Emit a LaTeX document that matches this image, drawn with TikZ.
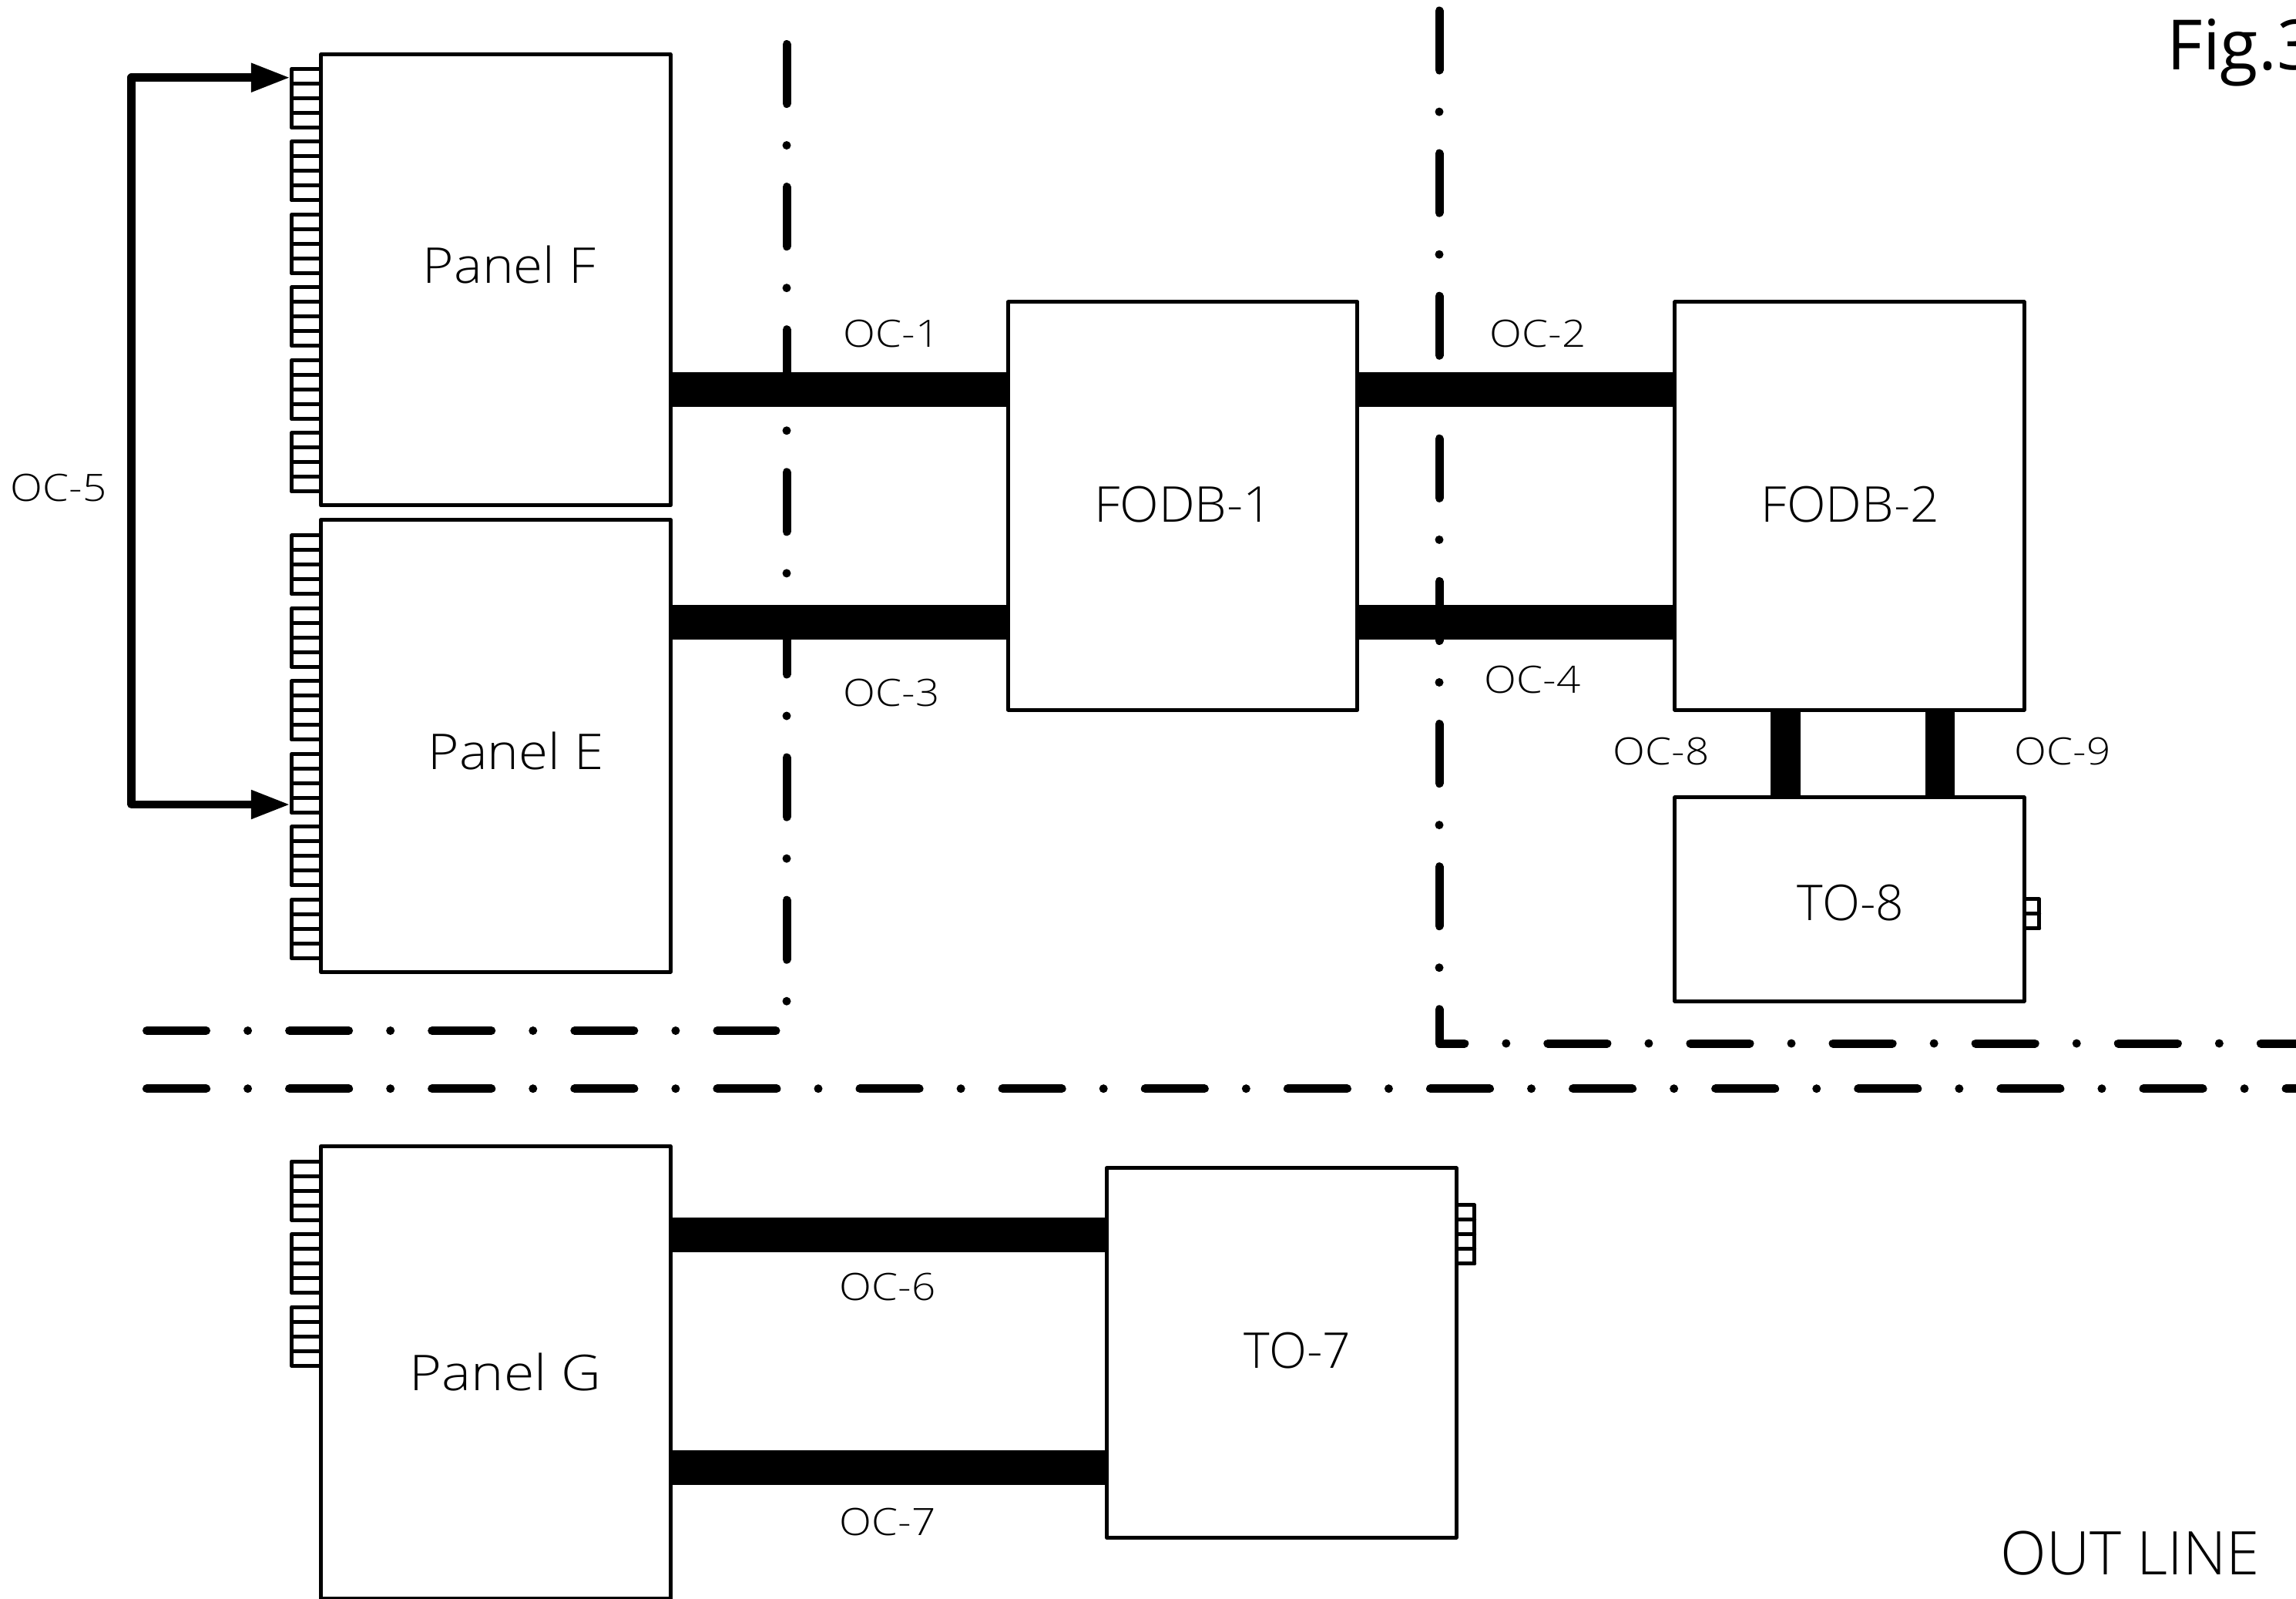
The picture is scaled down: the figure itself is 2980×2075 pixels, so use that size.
\documentclass[tikz,border=0pt]{standalone}
\usepackage{fontspec}
\setmainfont{Open Sans}[UprightFont=* Light]
\newfontfamily\figfont{Open Sans}
\newfontfamily\wideA{Open Sans}[UprightFont=* Light,FakeStretch=1.08]
\newfontfamily\wideB{Open Sans}[UprightFont=* Light,FakeStretch=1.12]
\newfontfamily\wideC{Open Sans}[UprightFont=* Light,FakeStretch=1.035]
\usetikzlibrary{arrows.meta}
\newcommand{\portgroup}[4]{% x-left, x-right, y-start, count
  \pgfmathsetmacro{\portstart}{#3}
  \draw[portline] (#1,\portstart) rectangle (#2,\portstart+19*#4);
  \foreach \portrung in {1,...,#4}{\draw[portline] (#1,\portstart+19*\portrung) -- (#2,\portstart+19*\portrung);}
}
\tikzset{
  x=0.01cm,y=-0.01cm,
  boxnode/.style={draw=black,fill=white,line width=0.05cm,inner sep=0pt,outer sep=0pt,line join=round},
  portline/.style={draw=black,line width=0.05cm,line join=round,line cap=round},
  bus/.style={draw=black,line width=0.45cm},
  vbus/.style={draw=black,line width=0.385cm},
  centreline/.style={draw=black,line width=0.11cm,line cap=round,line join=round,dash pattern=on 0.77cm off 0.54cm on 0cm off 0.54cm},
  linkarrow/.style={draw=black,line width=0.107cm,line join=round,{Triangle[length=0.507cm,width=0.35cm]}-{Triangle[length=0.507cm,width=0.35cm]}},
  cable/.style={inner sep=0pt,outer sep=0pt,anchor=base,font=\wideB\fontsize{13.9pt}{16pt}\selectfont},
  title/.style={inner sep=0pt,outer sep=0pt,anchor=base,font=\fontsize{18.2pt}{22pt}\selectfont},
  paneltitle/.style={title,font=\wideA\fontsize{18.2pt}{22pt}\selectfont},
  paneltitlewide/.style={title,font=\wideB\fontsize{18.2pt}{22pt}\selectfont},
  dbtitle/.style={title,font=\wideC\fontsize{18.2pt}{22pt}\selectfont},
}
\begin{document}
\begin{tikzpicture}
\useasboundingbox (0,0) rectangle (2980,2075);
% centre lines
\draw[centreline] (1021,57.5) -- (1021,1299.5);
\draw[centreline] (1868,14) -- (1868,1354) -- (2985,1354);
\draw[centreline] (190.5,1337.5) -- (1007,1337.5);
\draw[centreline] (190.5,1412.7) -- (2985,1412.7);
% ports
\foreach \g in {0,...,5}{\portgroup{378.7}{416}{89.3+94.5*\g}{4}}
\foreach \g in {0,...,5}{\portgroup{378.7}{416}{694.8+94.5*\g}{4}}
\foreach \g in {0,...,2}{\portgroup{378.7}{416}{1507+94.5*\g}{4}}
\portgroup{1890}{1913.7}{1563.7}{4}
\portgroup{2627.5}{2646.7}{1166.7}{2}
% boxes
\node[boxnode,minimum width=4.535cm,minimum height=5.85cm] (panelF) at (643.3,363.3) {};
\node[boxnode,minimum width=4.535cm,minimum height=5.865cm] (panelE) at (643.3,967.8) {};
\node[boxnode,minimum width=4.535cm,minimum height=5.865cm] (panelG) at (643.3,1781) {};
\node[boxnode,minimum width=4.53cm,minimum height=5.29cm] (fodbA) at (1535.3,656.5) {};
\node[boxnode,minimum width=4.53cm,minimum height=5.29cm] (fodbB) at (2400.6,656.5) {};
\node[boxnode,minimum width=4.53cm,minimum height=2.64cm] (toE) at (2400.6,1167) {};
\node[boxnode,minimum width=4.535cm,minimum height=4.79cm] (toS) at (1663.2,1755.5) {};
% buses
\draw[bus] (panelF.east |- 0,505.5) -- (fodbA.west |- 0,505.5);
\draw[bus] (panelE.east |- 0,807.5) -- (fodbA.west |- 0,807.5);
\draw[bus] (fodbA.east |- 0,505.5) -- (fodbB.west |- 0,505.5);
\draw[bus] (fodbA.east |- 0,807.5) -- (fodbB.west |- 0,807.5);
\draw[bus] (panelG.east |- 0,1602) -- (toS.west |- 0,1602);
\draw[bus] (panelG.east |- 0,1904) -- (toS.west |- 0,1904);
\draw[vbus] (fodbB.south -| 2317.7,0) -- (toE.north -| 2317.7,0);
\draw[vbus] (fodbB.south -| 2518,0) -- (toE.north -| 2518,0);
% arrow
\coordinate (tipA) at (376.7,100.7);
\coordinate (tipB) at (376.7,1044);
\coordinate (bendA) at (170.7,100.7);
\coordinate (bendB) at (170.7,1044);
\draw[linkarrow] (tipA) -- (bendA) -- (bendB) -- (tipB);
% box titles
\node[paneltitle] (tF) at (661,367) {Panel F};
\node[paneltitle] (tE) at (669.5,998) {Panel E};
\node[paneltitlewide] (tG) at (656,1804) {Panel G};
\node[dbtitle] (tA) at (1536,677) {FODB-1};
\node[dbtitle] (tB) at (2401.5,677) {FODB-2};
\node[title] (t8) at (2402,1194) {TO-8};
\node[title] (t7) at (1684,1775) {TO-7};
% cable labels
\node[cable] (oc1) at (1157,450) {OC-1};
\node[cable] (oc2) at (1996,450) {OC-2};
\node[cable] (oc3) at (1157,916) {OC-3};
\node[cable] (oc4) at (1989,899) {OC-4};
\node[cable] (oc5) at (76,650) {OC-5};
\node[cable] (oc6) at (1152,1687) {OC-6};
\node[cable] (oc7) at (1152,1992) {OC-7};
\node[cable] (oc8) at (2156,992) {OC-8};
\node[cable] (oc9) at (2677,992) {OC-9};
% corner texts
\node[inner sep=0pt,anchor=base west,font=\figfont\fontsize{25.6pt}{30pt}\selectfont] (fig) at (2812,90) {Fig.3};
\node[inner sep=0pt,anchor=base,font=\fontsize{22.2pt}{26pt}\selectfont] (ol) at (2765,2043) {OUT LINE};
\end{tikzpicture}
\end{document}
